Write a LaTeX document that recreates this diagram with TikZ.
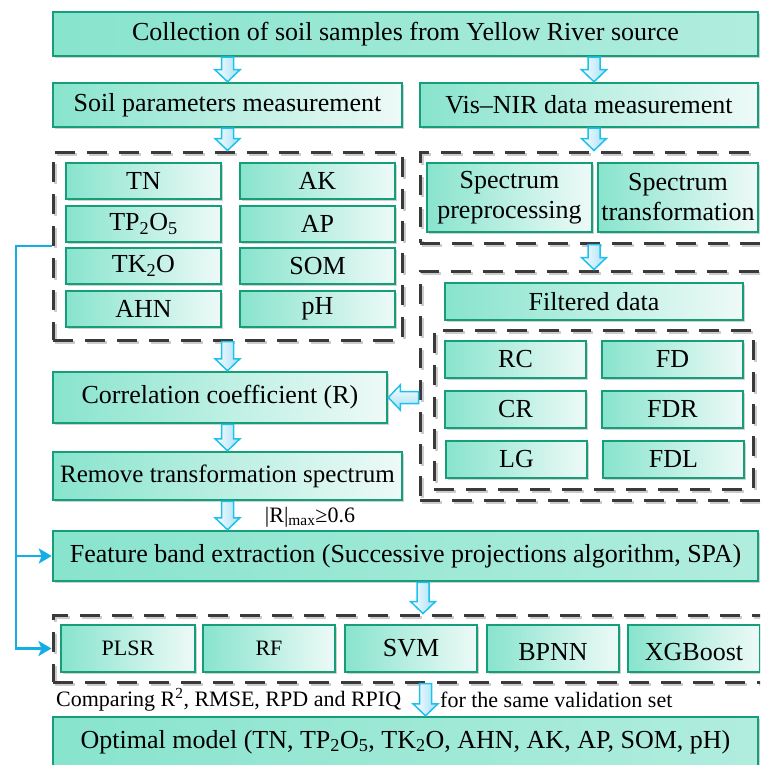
\documentclass[tikz,border=0pt]{standalone}
\usepackage{fontspec}
\setmainfont{Liberation Serif}
\usetikzlibrary{calc,shadows,arrows.meta}

\definecolor{boxline}{RGB}{22,158,122}
\definecolor{boxdark}{RGB}{136,228,205}
\definecolor{boxpale}{RGB}{238,250,247}
\definecolor{flowline}{RGB}{30,192,236}
\definecolor{flowpale}{RGB}{160,222,246}
\definecolor{linkblue}{RGB}{18,174,230}
\definecolor{grpline}{RGB}{58,58,58}

\tikzset{
  box/.style={draw=boxline, line width=2.5pt, left color=boxdark, right color=boxpale,
    inner sep=0pt, align=center,
    drop shadow={shadow xshift=2pt, shadow yshift=-2pt, opacity=0.18, fill=black}},
  widebox/.style={box, left color=boxdark, middle color=boxpale, right color=boxdark!60!boxpale},
  grp/.style={draw=grpline, line width=3pt, dash pattern=on 20pt off 12pt, inner sep=0pt,
    preaction={draw=black!20, line width=3pt, dash pattern=on 20pt off 12pt,
      transform canvas={shift={(2pt,-2pt)}}}},
  note/.style={inner sep=0pt, font=\fontsize{22}{26}\selectfont},
  lowtext/.style={text height=24pt},
  % hollow block arrows between the stages
  flowdown/.style={draw=flowline, line width=1.5pt, left color=white, right color=flowpale,
    to path={let \p1=(\tikztostart), \p2=(\tikztotarget) in
      (\x1-6pt,\y1) -- (\x1-6pt,\y2+12pt) -- (\x1-12.5pt,\y2+12pt) -- (\x1,\y2)
      -- (\x1+12.5pt,\y2+12pt) -- (\x1+6pt,\y2+12pt) -- (\x1+6pt,\y1) -- cycle}},
  flowleft/.style={draw=flowline, line width=1.5pt, top color=white, bottom color=flowpale,
    to path={let \p1=(\tikztostart), \p2=(\tikztotarget) in
      (\x1,\y1+6pt) -- (\x2+12pt,\y1+6pt) -- (\x2+12pt,\y1+12.5pt) -- (\x2,\y1)
      -- (\x2+12pt,\y1-12.5pt) -- (\x2+12pt,\y1-6pt) -- (\x1,\y1-6pt) -- cycle}},
  link/.style={draw=linkblue, line width=2.5pt, -{Stealth[length=13pt,width=15pt,inset=3pt]}}
}

\begin{document}
\begin{tikzpicture}[x=1pt, y=-1pt, every node/.style={font=\fontsize{26}{30}\selectfont}]
    \path[use as bounding box, clip] (0,0) rectangle (760,765);

    % Gruppenrahmen
    \node[grp, minimum width=349pt, minimum height=188pt] (soilgrp)  at (227.5,246) {};
    \node[grp, minimum width=343pt, minimum height=91pt]  (specgrp)  at (591.5,197.5) {};
    \node[grp, minimum width=343pt, minimum height=229pt] (filtgrp)  at (591.5,385.5) {};
    \node[grp, minimum width=319pt, minimum height=159pt] (transgrp) at (593.5,409.5) {};
    \node[grp, minimum width=710pt, minimum height=67pt]  (modelgrp) at (408,648.5) {};

    % Hauptschritte
    \node[widebox, minimum width=705pt, minimum height=44pt] (collect) at (405.5,34)
        {Collection of soil samples from Yellow River source};
    \node[box, minimum width=349pt, minimum height=44pt] (soil) at (227.5,105)
        {Soil parameters measurement};
    \node[box, minimum width=338pt, minimum height=44pt] (visnir) at (589,105)
        {Vis–NIR data measurement};
    \node[box, minimum width=334pt, minimum height=51pt] (corr) at (220,397.5)
        {Correlation coefficient (R)};
    \node[box, minimum width=349pt, minimum height=48pt, font=\fontsize{25}{30}\selectfont] (remove) at (227.5,476)
        {Remove transformation spectrum};
    \node[widebox, minimum width=705pt, minimum height=50pt] (feature) at (405.5,556)
        {Feature band extraction (Successive projections algorithm, SPA)};
    \node[widebox, minimum width=705pt, minimum height=50pt] (optimal) at (405.5,742)
        {Optimal model (TN, TP\textsubscript{2}O\textsubscript{5}, TK\textsubscript{2}O, AHN, AK, AP, SOM, pH)};

    % Bodenparameter
    \node[box, minimum width=155pt, minimum height=36pt] (tn)   at (143.5,181) {TN};
    \node[box, minimum width=155pt, minimum height=36pt] (tp)   at (143.5,224) {TP\textsubscript{2}O\textsubscript{5}};
    \node[box, minimum width=155pt, minimum height=36pt] (tk)   at (143.5,266) {TK\textsubscript{2}O};
    \node[box, minimum width=155pt, minimum height=36pt] (ahn)  at (143.5,309) {AHN};
    \node[box, minimum width=155pt, minimum height=36pt] (ak)   at (317.5,181) {AK};
    \node[box, minimum width=155pt, minimum height=36pt] (ap)   at (317.5,224) {AP};
    \node[box, minimum width=155pt, minimum height=36pt] (som)  at (317.5,266) {SOM};
    \node[box, minimum width=155pt, minimum height=36pt] (ph)   at (317.5,309) {pH};

    % Spektren
    \node[box, minimum width=165pt, minimum height=69pt] (prep)  at (509.5,197.5) {Spectrum\\preprocessing};
    \node[box, minimum width=160pt, minimum height=69pt] (trans) at (678,197.5) {Spectrum\\transformation};
    \node[box, minimum width=298pt, minimum height=37pt] (filtered) at (594,301.5) {Filtered data};
    \node[box, minimum width=141pt, minimum height=37pt] (rc)  at (515.5,359.5) {RC};
    \node[box, minimum width=141pt, minimum height=37pt] (cr)  at (515.5,409.5) {CR};
    \node[box, minimum width=141pt, minimum height=37pt] (lg)  at (516.5,459.5) {LG};
    \node[box, minimum width=141pt, minimum height=37pt] (fd)  at (672.5,359.5) {FD};
    \node[box, minimum width=141pt, minimum height=37pt] (fdr) at (672.5,409.5) {FDR};
    \node[box, minimum width=141pt, minimum height=37pt] (fdl) at (673.5,459.5) {FDL};

    % Modelle
    \node[box, minimum width=134pt, minimum height=47pt, font=\fontsize{22}{26}\selectfont] (plsr) at (128,648.5) {PLSR};
    \node[box, minimum width=132pt, minimum height=47pt, font=\fontsize{22}{26}\selectfont] (rf)   at (269,648.5) {RF};
    \node[box, minimum width=132pt, minimum height=47pt] (svm)  at (411,648.5) {SVM};
    \node[box, lowtext, minimum width=132pt, minimum height=47pt] (bpnn) at (553,648.5) {BPNN};
    \node[box, lowtext, minimum width=132pt, minimum height=47pt] (xgb)  at (694,648.5) {XGBoost};

    % Beschriftungen
    \node[note] (rmax) at (310,517) {|R|\textsubscript{max}≥0.6};
    \node[note, anchor=west] (cmpa) at (56,700) {Comparing R\textsuperscript{2}, RMSE, RPD and RPIQ};
    \node[note, anchor=west] (cmpb) at (440,700) {for the same validation set};

    % Blockpfeile
    \draw[flowdown] (collect.south -| soil) to (soil.north);
    \draw[flowdown] (collect.south -| filtered) to (visnir.north);
    \draw[flowdown] (soil.south) to (soilgrp.north);
    \draw[flowdown] (visnir.south -| filtered) to (specgrp.north);
    \draw[flowdown] (specgrp.south -| filtered) to (filtgrp.north);
    \draw[flowdown] (soilgrp.south) to (corr.north);
    \draw[flowleft] (filtgrp.west |- corr) to (corr.east);
    \draw[flowdown] (corr.south -| remove) to (remove.north);
    \draw[flowdown] (remove.south) to (feature.north);
    \draw[flowdown] ([xshift=17.5pt]feature.south) to (modelgrp.north);
    \draw[flowdown] ([xshift=17.5pt]modelgrp.south) to (optimal.north);

    % Rueckfuehrung der Bodenparameter
    \coordinate (bus) at (16,246);
    \draw[link] (soilgrp.west) -- (bus) |- (feature.west);
    \draw[link] (soilgrp.west) -- (bus) |- (modelgrp.west);
\end{tikzpicture}
\end{document}
